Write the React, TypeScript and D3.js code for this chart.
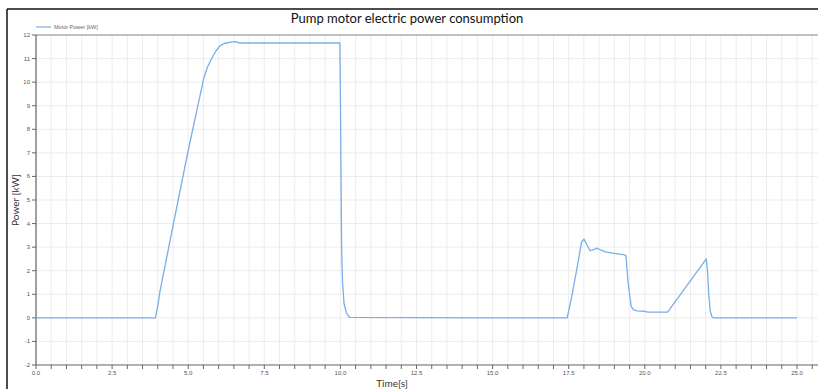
import React from 'react';
import * as d3 from 'd3';

// values
const timeS = [
  0, 3.92, 4.0, 4.07, 4.5, 5.0, 5.3, 5.5, 5.62, 5.75, 5.9, 6.05, 6.2, 6.4, 6.55, 6.7, 8.0,
  9.0, 9.98, 10.0, 10.02, 10.04, 10.07, 10.12, 10.2, 10.3, 15.0, 17.45, 17.6, 17.8, 17.92,
  18.0, 18.1, 18.2, 18.3, 18.42, 18.55, 18.7, 19.0, 19.3, 19.38, 19.45, 19.55, 19.62, 19.75,
  20.0, 20.1, 20.75, 22.02, 22.06, 22.1, 22.15, 22.2, 22.25, 25.0,
];
const motorPower = [
  0, 0, 0.5, 1.1, 3.9, 7.1, 8.9, 10.1, 10.6, 10.95, 11.3, 11.55, 11.65, 11.7, 11.72, 11.66,
  11.66, 11.66, 11.66, 9.5, 6, 3, 1.5, 0.6, 0.2, 0.02, 0, 0, 0.9, 2.3, 3.2, 3.34, 3.1, 2.85,
  2.88, 2.96, 2.88, 2.8, 2.74, 2.68, 2.65, 1.5, 0.5, 0.35, 0.3, 0.28, 0.24, 0.24, 2.5, 2.0,
  1.0, 0.3, 0.06, 0, 0,
];
const xLabels = [0, 2.5, 5, 7.5, 10, 12.5, 15, 17.5, 20, 22.5, 25];
const yTicks = d3.range(-2, 13);
const xGrid = d3.range(0, 26, 0.5);

const W = 818;
const H = 389;
const left = 36;
const right = 818;
const top = 35;
const bottom = 365;

export default function App() {
  const x = d3.scaleLinear().domain([0, 25]).range([left, 797]);
  const y = d3.scaleLinear().domain([-2, 12]).range([bottom, top]);

  const line = d3
    .line<number>()
    .x((_, i) => x(timeS[i]))
    .y(d => y(d));

  const tickFont = '"Liberation Sans", Arial, sans-serif';
  const labelFont = "Lato, 'Open Sans', sans-serif";

  return (
    <svg
      width={W}
      height={H}
      style={{position: 'absolute', left: 0, top: 0, background: '#fff'}}
    >
      <defs>
        <clipPath id="plot">
          <rect x={left} y={top} width={right - left} height={bottom - top} />
        </clipPath>
      </defs>

      {/* outer frame */}
      <line x1={7} x2={W} y1={9} y2={9} stroke="#111" strokeWidth={1.5} />
      <line x1={7} x2={7} y1={9} y2={H} stroke="#111" strokeWidth={1.5} />

      <text x={407} y={23} textAnchor="middle" fontFamily={labelFont} fontSize={13} fill="#111">
        Pump motor electric power consumption
      </text>

      {/* legend */}
      <line x1={36} x2={51} y1={27} y2={27} stroke="#7aaee8" strokeWidth={1.2} />
      <text x={54} y={29} fontFamily={tickFont} fontSize={5.5} fill="#666">
        Motor Power [kW]
      </text>

      {/* grid */}
      <g clipPath="url(#plot)">
        {xGrid.map(t => (
          <line key={'gx' + t} x1={x(t)} x2={x(t)} y1={top} y2={bottom} stroke="#ececec" strokeWidth={1} />
        ))}
        {yTicks.map(v => (
          <line key={'gy' + v} x1={left} x2={right} y1={y(v)} y2={y(v)} stroke="#ececec" strokeWidth={1} />
        ))}
      </g>

      {/* plot border */}
      <line x1={left} x2={right} y1={top} y2={top} stroke="#888" strokeWidth={1} />
      <line x1={left} x2={right} y1={bottom} y2={bottom} stroke="#666" strokeWidth={1.2} />
      <line x1={left} x2={left} y1={top} y2={bottom} stroke="#666" strokeWidth={1.2} />

      {/* y axis */}
      {yTicks.map(v => (
        <g key={'yt' + v}>
          <line x1={left - 4} x2={left} y1={y(v)} y2={y(v)} stroke="#666" />
          <text x={left - 6} y={y(v) + 2} textAnchor="end" fontFamily={tickFont} fontSize={6} fill="#555">
            {v}
          </text>
        </g>
      ))}

      {/* x axis */}
      {xGrid.map(t => (
        <line key={'xt' + t} x1={x(t)} x2={x(t)} y1={bottom} y2={bottom + 4} stroke="#666" />
      ))}
      {xLabels.map(t => (
        <text key={'xl' + t} x={x(t)} y={bottom + 10} textAnchor="middle" fontFamily={tickFont} fontSize={6} fill="#555">
          {t.toFixed(1)}
        </text>
      ))}

      <text x={392} y={387} textAnchor="middle" fontFamily={labelFont} fontSize={10} fill="#333">
        Time[s]
      </text>
      <text
        transform={`translate(19,${(top + bottom) / 2}) rotate(-90)`}
        textAnchor="middle"
        fontFamily={labelFont}
        fontSize={10}
        fill="#333"
      >
        Power [kW]
      </text>

      <path
        d={line(motorPower) || ''}
        fill="none"
        stroke="#7aaee8"
        strokeWidth={1.3}
        strokeLinejoin="round"
        clipPath="url(#plot)"
      />
    </svg>
  );
}
